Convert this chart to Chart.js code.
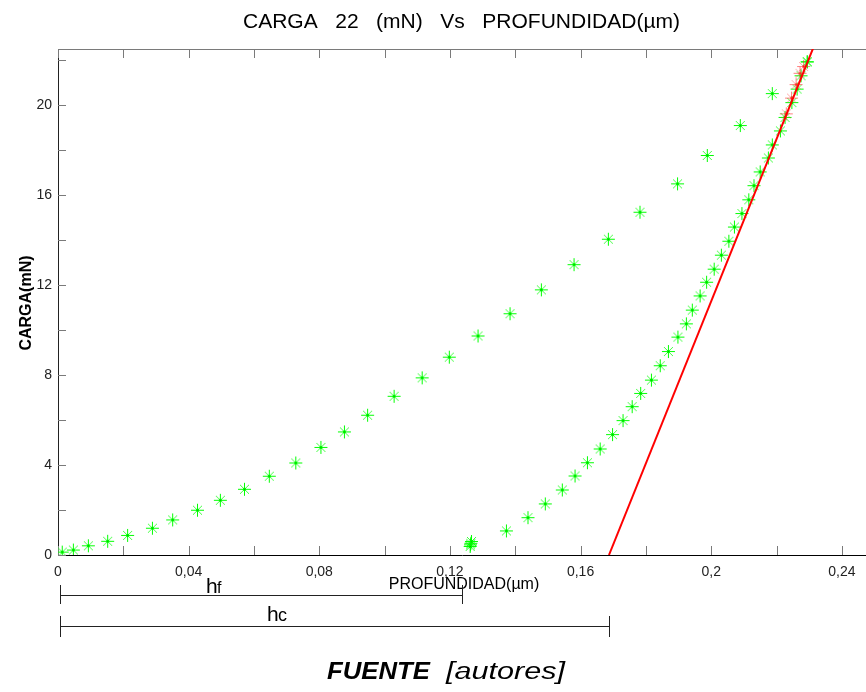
<!doctype html>
<html lang="es">
<head>
<meta charset="utf-8">
<title>Carga vs profundidad</title>
<script src="https://cdn.jsdelivr.net/npm/chart.js@4.4.0/dist/chart.umd.min.js"></script>
<style>
  body { margin: 0; background: #fff; }
  canvas { display: block; }
</style>
</head>
<body>
<canvas id="myChart" width="866" height="692"></canvas>
<script>
// carga (loading) branch
var loadX = [0.0013, 0.0047, 0.0093, 0.0152, 0.0213, 0.0289, 0.0351, 0.0427, 0.0497, 0.0571,
             0.0647, 0.0728, 0.0805, 0.0877, 0.0948, 0.1029, 0.1115, 0.1198, 0.1286, 0.1384,
             0.1480, 0.1580, 0.1685, 0.1782, 0.1897, 0.1988, 0.2089, 0.2187, 0.2294];
var loadY = [0.13, 0.22, 0.41, 0.61, 0.87, 1.19, 1.56, 1.99, 2.43, 2.92,
             3.50, 4.09, 4.78, 5.47, 6.21, 7.05, 7.87, 8.79, 9.73, 10.72,
             11.78, 12.90, 14.03, 15.23, 16.49, 17.75, 19.08, 20.50, 21.91];

// descarga (unloading) branch
var unloadX = [0.2294, 0.2275, 0.2263, 0.2247, 0.2226, 0.2212, 0.2187, 0.2175, 0.2150, 0.2131,
               0.2115, 0.2094, 0.2071, 0.2054, 0.2031, 0.2009, 0.1986, 0.1966, 0.1942, 0.1924,
               0.1898, 0.1869, 0.1844, 0.1817, 0.1784, 0.1758, 0.1730, 0.1698, 0.1660, 0.1621,
               0.1583, 0.1544, 0.1492, 0.1439, 0.1373, 0.1266, 0.1264, 0.1263, 0.1262];
var unloadY = [21.91, 21.29, 20.70, 20.10, 19.44, 18.84, 18.22, 17.64, 17.02, 16.41,
               15.78, 15.17, 14.57, 13.94, 13.32, 12.70, 12.12, 11.51, 10.88, 10.27,
               9.68, 9.04, 8.41, 7.77, 7.18, 6.59, 5.97, 5.35, 4.71, 4.10,
               3.51, 2.89, 2.27, 1.66, 1.07, 0.60, 0.52, 0.45, 0.38];

// points used for the fit (red)
var fitPtsX = [0.2230, 0.2246, 0.2260, 0.2272, 0.2283];
var fitPtsY = [19.6, 20.3, 20.9, 21.4, 21.7];

// tangent line
var fitLineX = [0.1687, 0.2320];
var fitLineY = [0, 22.8];

var hf = 0.1237;
var hc = 0.1687;

var xTicks = [0, 0.02, 0.04, 0.06, 0.08, 0.1, 0.12, 0.14, 0.16, 0.18, 0.2, 0.22, 0.24];
var yTicks = [0, 2, 4, 6, 8, 10, 12, 14, 16, 18, 20, 22];

var FONT = "'Liberation Sans', Arial, sans-serif";

function pts(xs, ys) {
    return xs.map(function (x, i) { return { x: x, y: ys[i] }; });
}

// asterisk marker
function makeStar(main, soft, dot) {
    var c = document.createElement('canvas');
    c.width = 15; c.height = 15;
    var g = c.getContext('2d');
    g.fillStyle = soft;
    for (var k = 2; k <= 4; k++) {
        g.fillRect(7 - k, 7 - k, 1, 1);
        g.fillRect(7 + k, 7 - k, 1, 1);
        g.fillRect(7 - k, 7 + k, 1, 1);
        g.fillRect(7 + k, 7 + k, 1, 1);
    }
    g.fillStyle = main;
    g.fillRect(7, 1, 1, 13);
    g.fillRect(1, 7, 13, 1);
    g.fillRect(6, 6, 3, 3);
    g.fillStyle = dot;
    g.fillRect(7, 7, 1, 1);
    return c;
}
var greenStar = makeStar('#00ff00', 'rgba(0,255,0,0.75)', '#00b000');
var redStar = makeStar('rgba(255,40,40,0.6)', 'rgba(255,60,60,0.45)', 'rgba(255,0,0,0.6)');

function textFit(ctx, str, x, y, font, width) {
    ctx.font = font;
    var w = ctx.measureText(str).width;
    ctx.save();
    ctx.translate(x, y);
    ctx.scale(width ? width / w : 1, 1);
    ctx.fillText(str, 0, 0);
    ctx.restore();
}

var extras = {
    id: 'extras',
    beforeDatasetsDraw: function (chart) {
        var ctx = chart.ctx, a = chart.chartArea;
        var xs = chart.scales.x, ys = chart.scales.y;
        ctx.save();
        ctx.strokeStyle = '#7a7a7a';
        ctx.lineWidth = 1;
        ctx.beginPath();
        xTicks.forEach(function (v) {
            var px = Math.round(xs.getPixelForValue(v)) + 0.5;
            ctx.moveTo(px, a.bottom); ctx.lineTo(px, a.bottom - 9);
            ctx.moveTo(px, a.top); ctx.lineTo(px, a.top + 9);
        });
        yTicks.forEach(function (v) {
            var py = Math.round(ys.getPixelForValue(v)) + 0.5;
            ctx.moveTo(a.left, py); ctx.lineTo(a.left + 8, py);
        });
        // top frame line
        ctx.moveTo(a.left, a.top + 0.5); ctx.lineTo(chart.width, a.top + 0.5);
        ctx.stroke();
        ctx.restore();
    },
    afterDraw: function (chart) {
        var ctx = chart.ctx, a = chart.chartArea;
        var xs = chart.scales.x;
        ctx.save();
        ctx.fillStyle = '#000';
        ctx.textBaseline = 'alphabetic';

        // title
        ctx.textAlign = 'left';
        var title = 'CARGA   22   (mN)   Vs   PROFUNDIDAD(\u00b5m)';
        textFit(ctx, title, 243, 28, '20px ' + FONT, 437);

        // axis titles
        ctx.textAlign = 'center';
        ctx.font = '16px ' + FONT;
        ctx.fillText('PROFUNDIDAD(\u00b5m)', 464, 589);
        ctx.save();
        ctx.translate(31, 303);
        ctx.rotate(-Math.PI / 2);
        ctx.font = 'bold 16px ' + FONT;
        ctx.fillText('CARGA(mN)', 0, 0);
        ctx.restore();

        // hf / hc bars
        ctx.strokeStyle = '#222';
        ctx.lineWidth = 1;
        var x0 = Math.round(xs.getPixelForValue(0)) + 2.5;
        [[hf, 595.5, 585, 604], [hc, 626.5, 616, 637]].forEach(function (b) {
            var x1 = Math.round(xs.getPixelForValue(b[0])) + 0.5;
            ctx.beginPath();
            ctx.moveTo(x0, b[1]); ctx.lineTo(x1, b[1]);
            ctx.moveTo(x0, b[2]); ctx.lineTo(x0, b[3]);
            ctx.moveTo(x1, b[2]); ctx.lineTo(x1, b[3]);
            ctx.stroke();
        });
        ctx.textAlign = 'left';
        ctx.font = '21px ' + FONT;
        ctx.fillText('h', 206, 593);
        ctx.font = '16px ' + FONT;
        ctx.fillText('f', 217, 593);
        ctx.font = '21px ' + FONT;
        ctx.fillText('h', 267, 621);
        ctx.font = '18px ' + FONT;
        ctx.fillText('c', 278, 621);

        // source
        textFit(ctx, 'FUENTE', 327, 679, 'italic bold 23px ' + FONT, 103);
        textFit(ctx, '[autores]', 446, 679, 'italic 23px ' + FONT, 119);
        ctx.restore();
    }
};

var ctx = document.getElementById('myChart');
var myChart = new Chart(ctx, {
    type: 'scatter',
    data: {
        datasets: [{
            label: 'ajuste',
            data: pts(fitLineX, fitLineY),
            showLine: true,
            borderColor: '#ff0000',
            borderWidth: 2,
            pointRadius: 0,
            order: 0
        }, {
            label: 'puntos ajuste',
            data: pts(fitPtsX, fitPtsY),
            pointStyle: redStar,
            order: 1
        }, {
            label: 'descarga',
            data: pts(unloadX, unloadY),
            pointStyle: greenStar,
            order: 2
        }, {
            label: 'carga',
            data: pts(loadX, loadY),
            pointStyle: greenStar,
            order: 3
        }]
    },
    options: {
        responsive: false,
        animation: false,
        devicePixelRatio: 1,
        layout: { autoPadding: false, padding: { top: 49, left: 0, right: 0, bottom: 0 } },
        plugins: {
            legend: { display: false },
            title: { display: false },
            tooltip: { enabled: false }
        },
        scales: {
            x: {
                type: 'linear',
                min: 0,
                max: 0.2474,
                afterBuildTicks: function (scale) {
                    scale.ticks = xTicks.map(function (v) { return { value: v }; });
                },
                afterFit: function (scale) {
                    scale.height = 137;
                },
                grid: { display: false, drawTicks: false },
                border: { display: true, color: '#000', width: 1 },
                ticks: {
                    autoSkip: false,
                    maxRotation: 0,
                    padding: 9,
                    color: '#222',
                    font: { family: FONT, size: 14 },
                    callback: function (v) {
                        var r = v / 0.04;
                        if (Math.abs(r - Math.round(r)) > 1e-6) return '';
                        return String(Math.round(v * 100) / 100).replace('.', ',');
                    }
                }
            },
            y: {
                type: 'linear',
                min: 0,
                max: 22.48,
                afterBuildTicks: function (scale) {
                    scale.ticks = yTicks.map(function (v) { return { value: v }; });
                },
                afterFit: function (scale) {
                    scale.width = 58;
                },
                grid: { display: false, drawTicks: false },
                border: { display: true, color: '#222', width: 1 },
                ticks: {
                    autoSkip: false,
                    padding: 6,
                    color: '#222',
                    font: { family: FONT, size: 14 },
                    callback: function (v) { return v % 4 === 0 ? String(v) : ''; }
                }
            }
        }
    },
    plugins: [extras]
});
</script>
</body>
</html>
